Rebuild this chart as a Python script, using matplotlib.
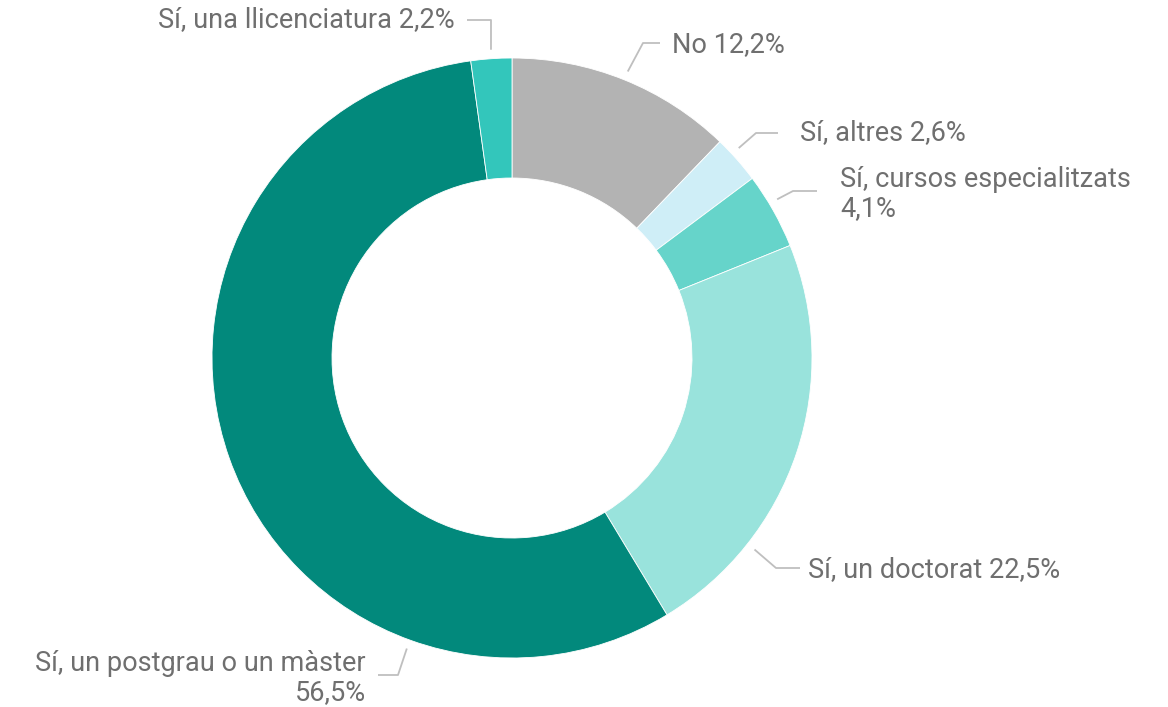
import matplotlib.pyplot as plt
import numpy as np

plt.rcParams['font.family'] = ['Roboto', 'DejaVu Sans']

labels = ['No 12,2%', 'Sí, altres 2,6%', 'Sí, cursos especialitzats\n4,1%',
          'Sí, un doctorat 22,5%', 'Sí, un postgrau o un màster\n56,5%',
          'Sí, una llicenciatura 2,2%']
values = [12.2, 2.6, 4.1, 22.5, 56.5, 2.2]
colors = ['#b3b3b3', '#cfeef7', '#66d4ca', '#99e3dc', '#02897c', '#33c6bb']

# label layout in pixels: leader start angle, elbow, line end x, text x, text y, align
leader_angle = [68, 42.8, 30.9, -38.3, 250.1, 93.9]
elbow_px = [(643, 43), (756, 133), (793, 191), (776, 568), (398, 675), (491, 20)]
line_end_px = [660, 778, 817, 800, 378, 467]
text_px = [(672, 45, 'left'), (800, 133, 'left'), (840, 194, 'left'),
           (808, 570, 'left'), (366, 678, 'right'), (455, 20, 'right')]

W, H = 1168, 707
cx, cy, R = 512, 358, 300


def to_data(px, py):
    return (px - cx) / R, (cy - py) / R


fig = plt.figure(figsize=(W / 100, H / 100), dpi=100)
ax = fig.add_axes([0, 0, 1, 1])
ax.pie(values, colors=colors, startangle=90, counterclock=False, radius=1,
       wedgeprops=dict(width=0.4, edgecolor='white', linewidth=0.6))
ax.set_xlim(-cx / R, (W - cx) / R)
ax.set_ylim(-(H - cy) / R, cy / R)
ax.set_aspect('equal')
ax.axis('off')

for lab, ang, el, le, (tx, ty, ha) in zip(labels, leader_angle, elbow_px, line_end_px, text_px):
    a = np.radians(ang)
    x0, y0 = 1.03 * np.cos(a), 1.03 * np.sin(a)
    ex, ey = to_data(*el)
    lx, _ = to_data(le, el[1])
    ax.plot([x0, ex, lx], [y0, ey, ey], color='#bfbfbf', lw=1.3, solid_capstyle='butt')
    tdx, tdy = to_data(tx, ty)
    ax.text(tdx, tdy, lab, ha=ha, va='center', fontsize=19.5, color='#6f6f6f',
            linespacing=1.1, multialignment=ha)

plt.savefig('out.png', dpi=100)
